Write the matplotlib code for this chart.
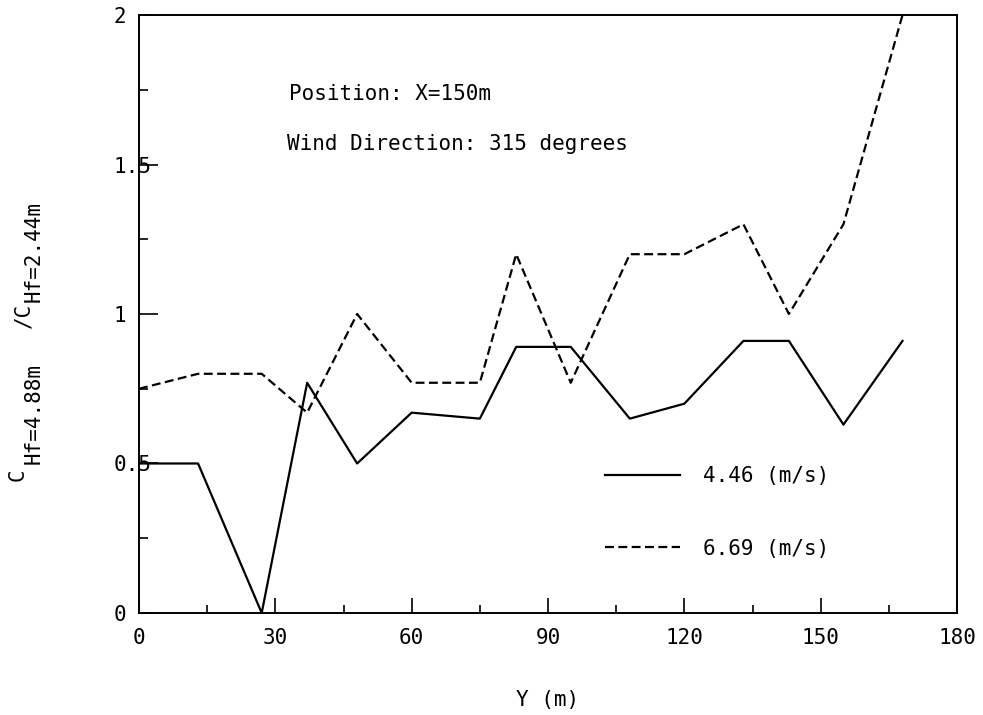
import numpy as np
import matplotlib.pyplot as plt
from matplotlib.ticker import MultipleLocator

# lateral position across the site (m)
y_pos = [0, 13, 27, 37, 48, 60, 75, 83, 95, 108, 120, 133, 143, 155, 168]

# concentration ratio C(Hf=4.88m) / C(Hf=2.44m) for two wind speeds
ratio_446 = [0.50, 0.50, 0.00, 0.77, 0.50, 0.67, 0.65, 0.89, 0.89, 0.65, 0.70, 0.91, 0.91, 0.63, 0.91]
ratio_669 = [0.75, 0.80, 0.80, 0.67, 1.00, 0.77, 0.77, 1.20, 0.77, 1.20, 1.20, 1.30, 1.00, 1.30, 2.00]

labels = ['4.46 (m/s)', '6.69 (m/s)']
x_ticks = [0, 30, 60, 90, 120, 150, 180]
y_ticks = [0, 0.5, 1, 1.5, 2]
y_ticklabels = ['0', '0.5', '1', '1.5', '2']

plt.rcParams['font.family'] = 'DejaVu Sans Mono'
FS = 15

fig = plt.figure(figsize=(9.83, 7.15), dpi=100)
ax = fig.add_axes([0.1414, 0.1427, 0.8322, 0.8363])

ax.plot(y_pos, ratio_446, color='black', lw=1.6, label=labels[0])
ax.plot(y_pos, ratio_669, color='black', lw=1.6, linestyle=(0, (4, 2)), label=labels[1])

ax.set_xlim(0, 180)
ax.set_ylim(0, 2)
ax.set_xticks(x_ticks)
ax.set_yticks(y_ticks, y_ticklabels)
ax.xaxis.set_minor_locator(MultipleLocator(15))
ax.yaxis.set_minor_locator(MultipleLocator(0.25))

ax.tick_params(axis='x', which='major', direction='in', length=11, width=1.2,
               pad=11, labelsize=FS)
ax.tick_params(axis='x', which='minor', direction='in', length=5.5, width=1.2)
ax.tick_params(axis='y', which='major', direction='in', length=13.5, width=1.2,
               pad=18, labelsize=FS)
ax.tick_params(axis='y', which='minor', direction='in', length=6.5, width=1.2)
for t in ax.get_yticklabels():
    t.set_horizontalalignment('left')

for s in ax.spines.values():
    s.set_linewidth(1.4)

ax.set_xlabel('Y (m)', fontsize=FS, labelpad=30)

# y-axis label built from pieces so the subscripts stay full size
fig.text(17.5 / 983, 1 - 475 / 715, 'C', rotation=90, fontsize=FS, ha='center', va='center')
fig.text(34 / 983, 1 - 414 / 715, 'Hf=4.88m', rotation=90, fontsize=FS, ha='center', va='center')
fig.text(23 / 983, 1 - 315 / 715, '/C', rotation=90, fontsize=FS, ha='center', va='center')
fig.text(34 / 983, 1 - 252 / 715, 'Hf=2.44m', rotation=90, fontsize=FS, ha='center', va='center')

ax.text(33.0, 1.716, 'Position: X=150m', fontsize=FS, va='baseline')
ax.text(32.6, 1.548, 'Wind Direction: 315 degrees', fontsize=FS, va='baseline')

ax.legend(loc='upper left', bbox_to_anchor=(0.570, 0.245), frameon=False,
          fontsize=FS, handlelength=3.6, handletextpad=1.1, labelspacing=2.5,
          borderpad=0, borderaxespad=0)

fig.savefig('out.png', dpi=100)
